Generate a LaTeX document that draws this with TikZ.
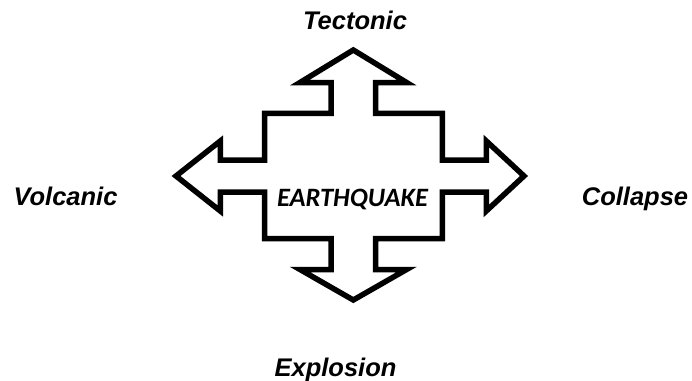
\documentclass[tikz,border=0pt]{standalone}
\usepackage{fontspec}
\setmainfont{Liberation Sans}
\newfontfamily\calib{Carlito}
\begin{document}
\begin{tikzpicture}[x=1pt,y=-1pt,
  lbl/.style={font=\fontsize{25.5}{30}\selectfont\bfseries\itshape, inner sep=0pt, anchor=base},
  shapeline/.style={draw=black, line width=5.5pt, line join=miter, fill=white}]
\useasboundingbox (0,0) rectangle (692,380);
\draw[shapeline] (353.3,50) -- (406.6,82.5) -- (375.6,82.5) -- (375.6,113.3) -- (442.3,113.3)
  -- (442.3,160) -- (486.3,160) -- (486.3,141) -- (524,176) -- (486.3,211) -- (486.3,192)
  -- (442.3,192) -- (442.3,238.7) -- (375.6,238.7) -- (375.6,269.5) -- (406.6,269.5)
  -- (353.3,300) -- (300,269.5) -- (331,269.5) -- (331,238.7) -- (264.5,238.7)
  -- (264.5,192) -- (220.3,192) -- (220.3,211) -- (176,176) -- (220.3,141) -- (220.3,160)
  -- (264.5,160) -- (264.5,113.3) -- (331,113.3) -- (331,82.5) -- (300,82.5) -- cycle;
\node[inner sep=0pt, anchor=base, font=\calib\fontsize{26.5}{30}\selectfont\bfseries\itshape] (eq) at (352.5,206.7) {EARTHQUAKE};
\node[lbl] (tec) at (355,29.3) {Tectonic};
\node[lbl] (vol) at (65.5,205) {Volcanic};
\node[lbl] (col) at (635,205) {Collapse};
\node[lbl] (exp) at (335.5,376) {Explosion};
\end{tikzpicture}
\end{document}
